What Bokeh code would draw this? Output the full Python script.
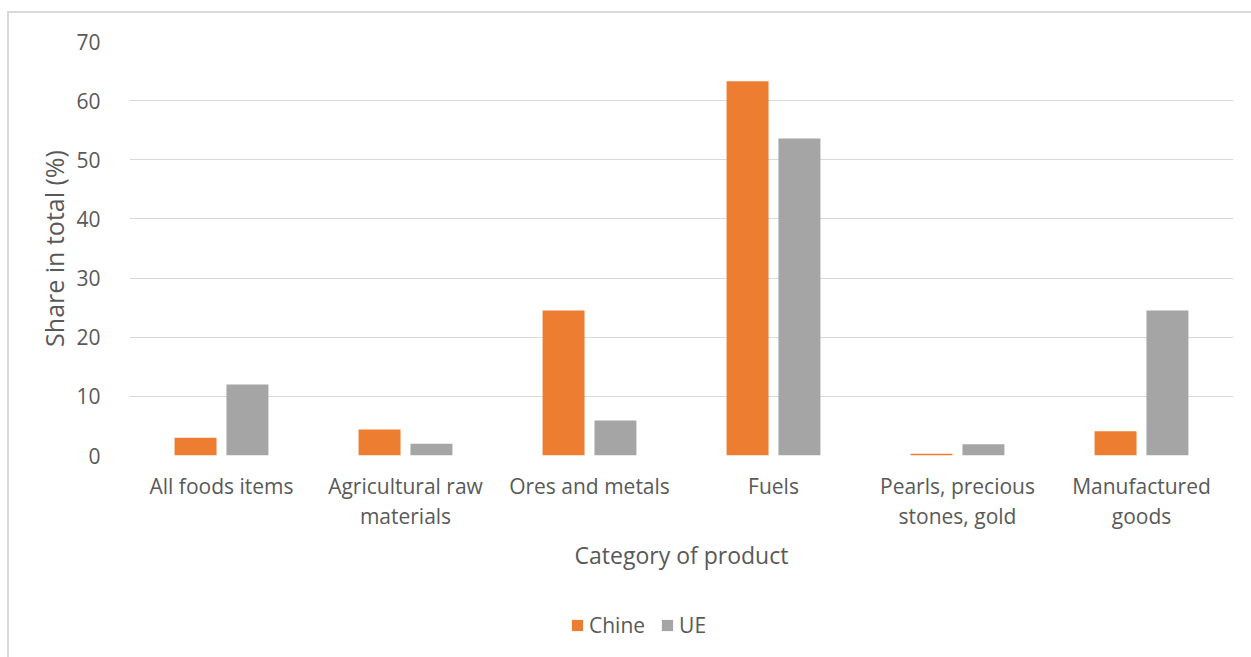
from bokeh.plotting import figure
from bokeh.layouts import column
from bokeh.models import FactorRange, Range1d, Legend, LegendItem, FixedTicker, ColumnDataSource
from bokeh.transform import dodge
from bokeh.embed import file_html
from bokeh.resources import INLINE

categories = ["All foods items", "Agricultural raw\nmaterials", "Ores and metals",
              "Fuels", "Pearls, precious\nstones, gold", "Manufactured\ngoods"]
chine = [3.0, 4.4, 24.5, 63.3, 0.3, 4.1]
ue = [12.0, 2.0, 5.9, 53.6, 1.9, 24.5]
y_ticks = [0, 10, 20, 30, 40, 50, 60, 70]
series_names = ["Chine", "UE"]

FONT = "Open Sans"
TEXT = "#595959"
ORANGE = "#ED7D31"
GREY = "#A5A5A5"

source = ColumnDataSource(data=dict(cat=categories, chine=chine, ue=ue))

# main chart
p = figure(width=1243, height=590, x_range=FactorRange(*categories),
           y_range=Range1d(0, 70), output_backend="svg", toolbar_location=None,
           min_border_left=120, min_border_right=19, min_border_top=28,
           min_border_bottom=148)
p.outline_line_color = None
p.background_fill_color = "white"
p.border_fill_color = "white"

p.vbar(x=dodge("cat", -0.141, range=p.x_range), top="chine", width=0.228,
       source=source, fill_color=ORANGE, line_color=None)
p.vbar(x=dodge("cat", 0.141, range=p.x_range), top="ue", width=0.228,
       source=source, fill_color=GREY, line_color=None)

p.xgrid.grid_line_color = None
p.ygrid.grid_line_color = "#d9d9d9"
p.ygrid.grid_line_width = 1
p.yaxis.ticker = FixedTicker(ticks=y_ticks)

for ax in (p.xaxis[0], p.yaxis[0]):
    ax.axis_line_color = None
    ax.major_tick_line_color = None
    ax.minor_tick_line_color = None
    ax.major_label_text_font = FONT
    ax.major_label_text_color = TEXT
    ax.axis_label_text_font = FONT
    ax.axis_label_text_color = TEXT
    ax.axis_label_text_font_style = "normal"

p.yaxis.major_label_text_font_size = "21px"
p.yaxis.axis_label = "Share in total (%)"
p.yaxis.axis_label_text_font_size = "25px"
p.yaxis.major_label_standoff = 23
p.yaxis.axis_label_standoff = 2

p.xaxis.major_label_text_font_size = "21px"
p.xaxis.major_label_text_line_height = 1.09
p.xaxis.axis_label = "Category of product"
p.xaxis.axis_label_text_font_size = "23px"
p.xaxis.major_label_standoff = 10
p.xaxis.axis_label_standoff = 6

# legend strip underneath
lg = figure(width=1243, height=54, x_range=Range1d(0, 1), y_range=Range1d(0, 1),
            output_backend="svg", toolbar_location=None,
            x_axis_location=None, y_axis_location=None,
            min_border=0, min_border_left=0, min_border_right=0,
            min_border_top=0, min_border_bottom=0)
lg.outline_line_color = None
lg.grid.visible = False
# swatches kept outside the visible range; only their legend entries show
sw1 = lg.quad(left=[2], right=[3], bottom=[2], top=[3], fill_color=ORANGE, line_color=None)
sw2 = lg.quad(left=[2], right=[3], bottom=[2], top=[3], fill_color=GREY, line_color=None)

legend = Legend(items=[LegendItem(label=series_names[0], renderers=[sw1]),
                       LegendItem(label=series_names[1], renderers=[sw2])],
                orientation="horizontal", location=(441, 18),
                glyph_width=14, glyph_height=14, label_standoff=5, spacing=15,
                padding=0, margin=0, border_line_color=None,
                background_fill_alpha=0,
                label_text_font=FONT, label_text_color=TEXT,
                label_text_font_size="21px")
lg.add_layout(legend, "center")

layout = column(p, lg, spacing=0)
layout.styles = {"margin-left": "7px", "margin-top": "11px",
                 "border-left": "2px solid #d9d9d9", "border-top": "2px solid #d9d9d9"}

open("out.html", "w").write(file_html(layout, INLINE))
